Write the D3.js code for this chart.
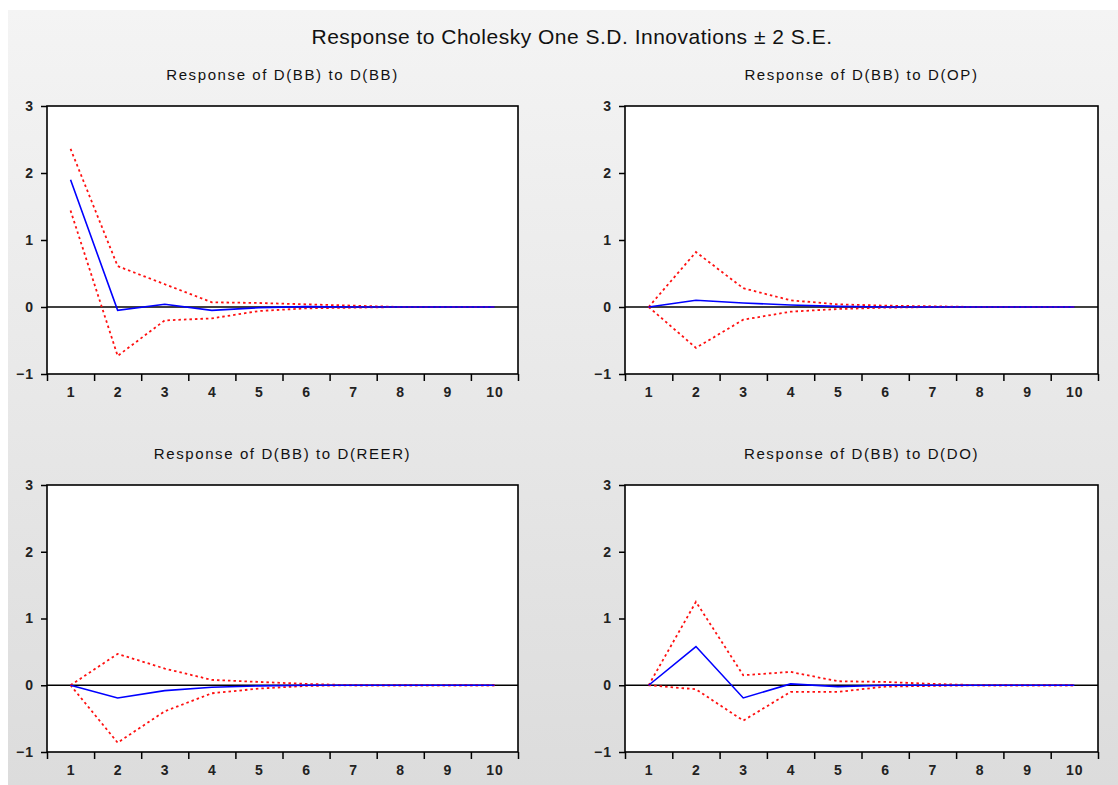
<!DOCTYPE html>
<html>
<head>
<meta charset="utf-8">
<script src="https://cdn.jsdelivr.net/npm/d3@7"></script>
<style>
  body { margin: 0; background: #fff; }
  svg { display: block; }
  .ttl { font-family: "Liberation Sans", Arial, sans-serif; fill: #111; }
  .tick text { font-family: "Liberation Sans", Arial, sans-serif; font-size: 14px; font-weight: bold; fill: #222; letter-spacing: 1px; }
</style>
</head>
<body>
<svg id="chart"></svg>
<script>
const W = 1118, H = 785;

const periods = [1, 2, 3, 4, 5, 6, 7, 8, 9, 10];
const yTicks = [-1, 0, 1, 2, 3];

const mainTitle = "Response to Cholesky One S.D. Innovations \u00B1 2 S.E.";
const panelTitles = [
  "Response of D(BB) to D(BB)",
  "Response of D(BB) to D(OP)",
  "Response of D(BB) to D(REER)",
  "Response of D(BB) to D(DO)"
];

// impulse responses (blue) and +/- 2 S.E. bands (red dotted)
const bbResp  = [1.90, -0.05, 0.04, -0.05, -0.01, 0.005, 0, 0, 0, 0];
const bbUpper = [2.36, 0.61, 0.34, 0.07, 0.06, 0.04, 0.02, 0, 0, 0];
const bbLower = [1.44, -0.73, -0.20, -0.17, -0.06, -0.02, -0.01, 0, 0, 0];

const opResp  = [0, 0.10, 0.06, 0.03, 0.01, 0, 0, 0, 0, 0];
const opUpper = [0, 0.82, 0.28, 0.10, 0.04, 0.02, 0.01, 0, 0, 0];
const opLower = [0, -0.61, -0.19, -0.07, -0.03, -0.01, 0, 0, 0, 0];

const reerResp  = [0, -0.19, -0.08, -0.03, -0.01, 0, 0, 0, 0, 0];
const reerUpper = [0, 0.47, 0.25, 0.08, 0.05, 0.02, 0, 0, 0, 0];
const reerLower = [0, -0.86, -0.39, -0.12, -0.05, -0.01, 0, 0, 0, 0];

const doResp  = [0, 0.58, -0.19, 0.02, -0.02, 0, 0, 0, 0, 0];
const doUpper = [0, 1.25, 0.15, 0.20, 0.06, 0.05, 0.02, 0, 0, 0];
const doLower = [0, -0.06, -0.53, -0.10, -0.10, -0.02, -0.01, 0, 0, 0];

const panels = [
  { title: panelTitles[0], resp: bbResp, up: bbUpper, lo: bbLower, x0: 47, x1: 518, y0: 106, y1: 374 },
  { title: panelTitles[1], resp: opResp, up: opUpper, lo: opLower, x0: 625, x1: 1098, y0: 106, y1: 374 },
  { title: panelTitles[2], resp: reerResp, up: reerUpper, lo: reerLower, x0: 47, x1: 518, y0: 485, y1: 752 },
  { title: panelTitles[3], resp: doResp, up: doUpper, lo: doLower, x0: 625, x1: 1098, y0: 485, y1: 752 }
];

const svg = d3.select("#chart").attr("width", W).attr("height", H);

// grey gradient backdrop
const grad = svg.append("defs").append("linearGradient")
  .attr("id", "bg").attr("x1", 0).attr("y1", 0).attr("x2", 0).attr("y2", 1);
grad.append("stop").attr("offset", "0%").attr("stop-color", "#f4f4f4");
grad.append("stop").attr("offset", "100%").attr("stop-color", "#dcdcdc");
svg.append("rect").attr("x", 8).attr("y", 10).attr("width", W - 8).attr("height", H - 10)
  .attr("fill", "url(#bg)");

svg.append("text").attr("class", "ttl")
  .attr("x", 572).attr("y", 44)
  .attr("text-anchor", "middle")
  .style("font-size", "21px")
  .style("letter-spacing", "0.5px")
  .text(mainTitle);

panels.forEach(p => {
  const g = svg.append("g");
  const x = d3.scaleLinear().domain([0.5, 10.5]).range([p.x0, p.x1]);
  const y = d3.scaleLinear().domain([-1, 3]).range([p.y1, p.y0]);

  g.append("rect")
    .attr("x", p.x0).attr("y", p.y0)
    .attr("width", p.x1 - p.x0).attr("height", p.y1 - p.y0)
    .attr("fill", "#fff");

  g.append("text").attr("class", "ttl")
    .attr("x", (p.x0 + p.x1) / 2).attr("y", p.y0 - 26)
    .attr("text-anchor", "middle")
    .style("font-size", "15px")
    .style("letter-spacing", "1.6px")
    .text(p.title);

  // y axis
  const ya = g.append("g")
    .attr("transform", `translate(${p.x0},0)`)
    .call(d3.axisLeft(y).tickValues(yTicks).tickSize(6).tickPadding(7).tickFormat(d3.format("d")));
  ya.select(".domain").remove();
  ya.selectAll(".tick line").attr("stroke", "#000").attr("stroke-width", 1.5);

  // x axis: ticks at boundaries, labels at centres
  const xb = g.append("g")
    .attr("transform", `translate(0,${p.y1})`)
    .call(d3.axisBottom(x).tickValues(d3.range(0.5, 11, 1)).tickSize(7).tickFormat(""));
  xb.select(".domain").remove();
  xb.selectAll(".tick line").attr("stroke", "#000").attr("stroke-width", 1.5);
  const xl = g.append("g")
    .attr("transform", `translate(0,${p.y1})`)
    .call(d3.axisBottom(x).tickValues(periods).tickSize(0).tickPadding(13));
  xl.select(".domain").remove();

  // zero line
  g.append("line")
    .attr("x1", p.x0).attr("x2", p.x1)
    .attr("y1", y(0)).attr("y2", y(0))
    .attr("stroke", "#000").attr("stroke-width", 1.4);

  const line = d3.line().x((d, i) => x(periods[i])).y(d => y(d));

  [p.up, p.lo].forEach(band => {
    g.append("path").datum(band)
      .attr("d", line)
      .attr("fill", "none")
      .attr("stroke", "#ff1010")
      .attr("stroke-width", 1.8)
      .attr("stroke-dasharray", "2.5,3");
  });

  g.append("path").datum(p.resp)
    .attr("d", line)
    .attr("fill", "none")
    .attr("stroke", "#0000ff")
    .attr("stroke-width", 1.6);

  // frame
  g.append("rect")
    .attr("x", p.x0).attr("y", p.y0)
    .attr("width", p.x1 - p.x0).attr("height", p.y1 - p.y0)
    .attr("fill", "none")
    .attr("stroke", "#000").attr("stroke-width", 1.6);
});
</script>
</body>
</html>
